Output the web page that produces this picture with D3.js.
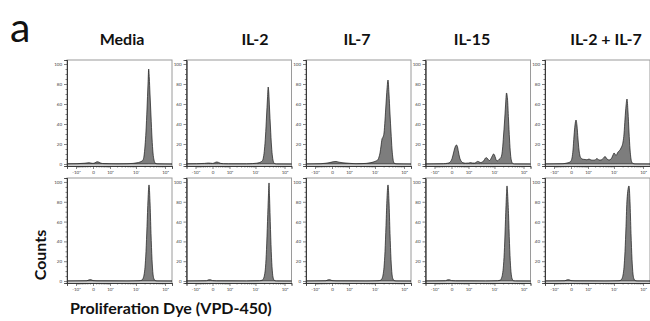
<!DOCTYPE html>
<html>
<head>
<meta charset="utf-8">
<script src="https://cdn.jsdelivr.net/npm/d3@7"></script>
<style>
  body { margin: 0; background: #fff; }
  svg { display: block; font-family: Lato, "Open Sans", sans-serif; }
</style>
</head>
<body>
<script>

// conditions (columns) and axis ticks
var conditions = ["Media", "IL-2", "IL-7", "IL-15", "IL-2 + IL-7"];
var xTicks = [-1000, 0, 1000, 10000, 100000];
var xTickLabels = ["-10\u00b3", "0", "10\u00b3", "10\u2074", "10\u2075"];
var yTicks = [0, 20, 40, 60, 80, 100];

// histograms: [VPD-450 intensity, count (% of max)]
// top row
var topMedia = [[-2390,0.2],[-898,0.3],[-313,0.8],[-132,1.3],[-61,0.9],[0,0.6],[61,1.2],[132,2.2],[216,1.8],[313,0.8],[491,0.4],[898,0.3],[1990,0.2],[4780,0.3],[7860,0.6],[10870,1.2],[13840,2],[16240,3],[17590,4],[19050,8],[20630,18],[22340,33],[24180,55],[26180,80],[27600,95],[29000,86],[30670,70],[33200,48],[35930,26],[38880,11],[42080,4],[45520,1],[53280,0.2],[172800,0]];
var topIL2 = [[-2390,0.2],[-898,0.3],[-313,0.6],[-132,1],[-61,0.8],[0,0.6],[61,1.2],[132,2],[216,1.6],[313,0.7],[491,0.3],[898,0.2],[4780,0.2],[7860,0.4],[10870,0.8],[13840,1.5],[16240,2.5],[17590,3.5],[19050,7],[20630,15],[22340,28],[24180,47],[26180,66],[27600,77],[29000,71],[30670,56],[33200,36],[35930,18],[38880,7],[42080,2],[45520,0.5],[53280,0.1],[172800,0]];
var topIL7 = [[-2390,0.1],[-491,0.3],[-216,0.8],[-61,1.5],[29,2.2],[132,2.5],[262,1.8],[491,1.2],[898,0.8],[1360,0.5],[1990,0.3],[3400,0.4],[4780,0.6],[6670,1.2],[9250,2.2],[10870,3],[12770,4.5],[13840,7],[14990,11],[16240,18],[17590,25],[19050,27],[20630,31],[22340,44],[24180,60],[26180,75],[28340,84],[30670,70],[33200,50],[35930,32],[38880,15],[42080,5],[45520,1],[53280,0.2],[172800,0]];
var topIL15 = [[-2390,0.1],[-313,0.3],[-132,0.8],[-61,1.5],[-29,2.5],[0,4],[29,7],[61,11],[95,15],[132,18],[172,19],[216,17],[262,12],[313,7],[368,4],[427,2.5],[491,1.5],[716,0.8],[1000,1],[1230,1.4],[1500,1],[1810,0.9],[2180,2],[2390,2.6],[2610,2.4],[3120,1.5],[3700,2],[4390,4.5],[4780,6],[5200,6.3],[5650,5.5],[6140,4],[6670,3.5],[7240,4.5],[8520,8.5],[9250,10],[10030,9],[10870,6],[11790,3.5],[12770,3.2],[13840,4],[14990,5],[16240,6],[17590,8],[19050,15],[20630,28],[22340,42],[24180,58],[26180,71],[28340,65],[30670,45],[33200,25],[35930,10],[38880,3],[42080,0.8],[49250,0.1],[172800,0]];
var topCombo = [[-2390,0.1],[-313,0.3],[-132,1],[-61,1.5],[-29,2],[0,3],[29,6],[61,14],[95,28],[132,39],[172,44],[216,38],[262,25],[313,14],[368,8],[427,6],[491,5],[716,4.5],[898,4.2],[1110,5],[1360,4],[1650,3.8],[1990,4],[2390,5.5],[2850,4],[3400,4],[4040,5.5],[4780,7.5],[5650,5],[6670,4],[7860,5],[9250,9],[10030,11],[10870,10],[11790,8.5],[12770,10],[13840,12],[14990,13],[16240,14],[17590,16],[19050,18],[20630,22],[22340,30],[24180,45],[26180,58],[28340,65],[30670,52],[33200,32],[35930,15],[38880,5],[42080,1.5],[45520,0.5],[53280,0.1],[172800,0]];
// bottom row
var botMedia = [[-2390,0.1],[-216,0.3],[-132,1.2],[-61,1.4],[0,0.4],[132,0.2],[4780,0.1],[12770,0.3],[16240,1],[17590,2.5],[19050,6],[20630,14],[22340,30],[24180,55],[26180,82],[28340,97],[30670,80],[33200,48],[35930,22],[38880,7],[42080,2],[45520,0.5],[53280,0.1],[172800,0]];
var botIL2 = [[-2390,0.1],[-216,0.3],[-132,1.2],[-61,1.3],[0,0.4],[132,0.2],[4780,0.1],[13840,0.3],[17590,1],[19050,2.5],[20630,6],[22340,14],[24180,32],[26180,60],[28340,88],[29500,99],[30670,86],[33200,52],[35930,24],[38880,8],[42080,2],[45520,0.5],[53280,0.1],[172800,0]];
var botIL7 = [[-2390,0.1],[-216,0.3],[-132,1.2],[-61,1.3],[0,0.4],[132,0.2],[4780,0.1],[12770,0.3],[16240,1],[17590,2.5],[19050,6],[20630,14],[22340,30],[24180,56],[26180,84],[28340,97],[30670,80],[33200,48],[35930,22],[38880,7],[42080,2],[45520,0.5],[53280,0.1],[172800,0]];
var botIL15 = [[-2390,0.1],[-216,0.3],[-132,1.2],[-61,1.3],[0,0.4],[132,0.2],[4780,0.1],[12770,0.3],[16240,1],[17590,3],[19050,7],[20630,16],[22340,34],[24180,62],[26180,88],[27250,96],[28340,90],[30670,68],[33200,38],[35930,16],[38880,5],[42080,1.5],[45520,0.3],[53280,0.1],[172800,0]];
var botCombo = [[-2390,0.1],[-216,0.3],[-132,1.2],[-61,1.3],[0,0.4],[132,0.2],[4780,0.1],[14990,0.3],[17590,1],[19050,2.5],[20630,6],[22340,14],[24180,30],[26180,55],[28340,82],[33200,96],[35930,80],[38880,48],[42080,22],[45520,7],[49250,2],[53280,0.5],[62360,0.1],[172800,0]];

var rows = [
  [topMedia, topIL2, topIL7, topIL15, topCombo],
  [botMedia, botIL2, botIL7, botIL15, botCombo]
];

// layout
var width = 650, height = 321;
var panelW = 105, panelStep = 119.5, firstLeft = 67;
var rowTop = [60, 178], rowH = [106, 105];
var titleX = [122, 255, 357, 472, 606];

var svg = d3.select("body").append("svg")
    .attr("width", width)
    .attr("height", height);

// biexponential-like display scale
var x = d3.scaleSymlog()
    .constant(360)
    .domain([-2390, 172800])
    .range([0, panelW]);

var minorX = d3.range(-900, 0, 100)
    .concat(d3.range(100, 1000, 100))
    .concat(d3.range(2000, 10000, 1000))
    .concat(d3.range(20000, 100000, 10000));
var minorY = d3.range(0, 101, 5).filter(function(d) { return d % 20; });

rows.forEach(function(row, r) {
  var y = d3.scaleLinear()
      .domain([-2, 104])
      .range([rowH[r], 0]);

  var area = d3.area()
      .x(function(d) { return x(d[0]); })
      .y0(y(0))
      .y1(function(d) { return y(d[1]); })
      .curve(d3.curveMonotoneX);

  row.forEach(function(data, i) {
    var g = svg.append("g")
        .attr("transform", "translate(" + (firstLeft + i * panelStep) + "," + rowTop[r] + ")");

    g.append("rect")
        .attr("width", panelW)
        .attr("height", rowH[r])
        .attr("fill", "none")
        .attr("stroke", "#9a9a9a")
        .attr("stroke-width", 1);

    g.append("path")
        .datum(data)
        .attr("d", area)
        .attr("fill", "#7d7d7d")
        .attr("stroke", "#1a1a1a")
        .attr("stroke-width", 0.7);

    // y axis
    g.append("g")
        .call(d3.axisLeft(y).tickValues(yTicks).tickSize(3).tickPadding(2));
    g.append("g")
        .call(d3.axisLeft(y).tickValues(minorY).tickSize(1.5).tickFormat(""));

    // x axis
    g.append("g")
        .attr("transform", "translate(0," + rowH[r] + ")")
        .call(d3.axisBottom(x).tickValues(xTicks).tickSize(3).tickPadding(2)
          .tickFormat(function(d, k) { return xTickLabels[k]; }));
    g.append("g")
        .attr("transform", "translate(0," + rowH[r] + ")")
        .call(d3.axisBottom(x).tickValues(minorX).tickSize(1.5).tickFormat(""));

    g.selectAll(".domain").attr("stroke", "#333").attr("stroke-width", 0.8);
    g.selectAll(".tick line").attr("stroke", "#333").attr("stroke-width", 0.6);
    g.selectAll(".tick text").attr("font-size", 4.5).attr("fill", "#444")
        .attr("font-family", "Lato, sans-serif");
  });
});

// column titles
svg.selectAll(".title")
    .data(conditions)
  .enter().append("text")
    .attr("class", "title")
    .attr("x", function(d, i) { return titleX[i]; })
    .attr("y", 45)
    .attr("text-anchor", "middle")
    .attr("font-size", 16)
    .attr("font-weight", "bold")
    .attr("fill", "#111")
    .text(function(d) { return d; });

// panel letter
svg.append("text")
    .attr("x", 10)
    .attr("y", 42)
    .attr("font-size", 41)
    .attr("fill", "#111")
    .text("a");

// axis titles
svg.append("text")
    .attr("transform", "translate(46,255) rotate(-90)")
    .attr("text-anchor", "middle")
    .attr("font-size", 16)
    .attr("font-weight", "bold")
    .attr("fill", "#111")
    .text("Counts");

svg.append("text")
    .attr("x", 70)
    .attr("y", 314)
    .attr("font-size", 16)
    .attr("font-weight", "bold")
    .attr("fill", "#111")
    .text("Proliferation Dye (VPD-450)");

</script>
</body>
</html>
